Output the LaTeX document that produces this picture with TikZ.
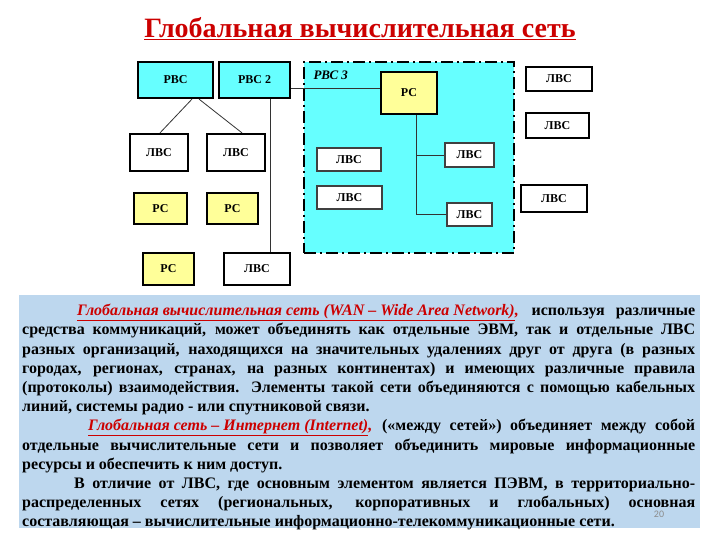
\documentclass[tikz,border=0pt]{standalone}
\usepackage{fontspec}
\setmainfont{Liberation Serif}
\newfontfamily\numfont{Carlito}
\usetikzlibrary{calc}

\definecolor{netcyan}{RGB}{102,255,255}
\definecolor{wsyellow}{RGB}{255,255,153}
\definecolor{infoblue}{RGB}{189,215,238}
\definecolor{titlered}{RGB}{204,0,0}

\begin{document}
\begin{tikzpicture}[x=1pt, y=-1pt,
        box/.style={draw, line width=2.2pt, inner sep=0pt, font=\bfseries\fontsize{12}{14}\selectfont},
        net/.style={box, fill=netcyan},
        lan/.style={box, fill=white},
        lanthin/.style={box, draw=black!75, line width=1.2pt, fill=white},
        ws/.style={box, fill=wsyellow},
        sz/.style 2 args={minimum width=#1pt, minimum height=#2pt},
        link/.style={draw=black!80, line width=0.8pt}]

    \useasboundingbox (0,0) rectangle (720,540);
    \fill[white] (0,0) rectangle (720,540);

    % Title
    \node[font=\bfseries\fontsize{28}{30}\selectfont, text=titlered] (title) at (360,29)
        {\underline{Глобальная вычислительная сеть}};

    % Region RVS 3
    \node[draw, fill=netcyan, line width=2.2pt, dash pattern=on 12pt off 4pt on 2pt off 4pt,
          sz={210}{191}] (rvs3) at (409,157.5) {};
    \node[anchor=west, font=\bfseries\itshape\fontsize{13}{15}\selectfont] (rvs3label) at (310,75) {РВС 3};

    % Left part
    \node[net, sz={75}{36}] (rvs) at (175.5,80) {РВС};
    \node[net, sz={71}{36}] (rvs2) at (254.5,80) {РВС 2};
    \node[lan, sz={58}{37}] (lvsA) at (159,152.5) {ЛВС};
    \node[lan, sz={58}{37}] (lvsB) at (236,152.5) {ЛВС};
    \node[ws, sz={53}{31}] (rsA) at (160.5,208.5) {РС};
    \node[ws, sz={51}{31}] (rsB) at (232.5,208.5) {РС};
    \node[ws, sz={51}{32}] (rsC) at (168.5,269) {РС};
    \node[lan, sz={66}{32}] (lvsC) at (257,269) {ЛВС};

    % Inside RVS 3
    \node[ws, sz={56}{42}] (rs3) at (409,93) {РС};
    \node[lanthin, sz={64}{23}] (lvsD) at (349,159.5) {ЛВС};
    \node[lanthin, sz={65}{23}] (lvsE) at (349.5,197.5) {ЛВС};
    \node[lanthin, sz={49}{24}] (lvsF) at (469.5,155) {ЛВС};
    \node[lanthin, sz={45}{23}] (lvsG) at (469.5,214.5) {ЛВС};

    % Right column
    \node[lan, sz={66}{24}] (lvsH) at (559,79) {ЛВС};
    \node[lan, sz={63}{25}] (lvsI) at (557.5,125.5) {ЛВС};
    \node[lan, sz={66}{27}] (lvsJ) at (554,198.5) {ЛВС};

    % Links
    \draw[link] ([xshift=16.5]rvs.south) -- ([xshift=1]lvsA.north);
    \draw[link] ([xshift=23.5]rvs.south) -- ([xshift=6]lvsB.north);
    \draw[link] ([xshift=15.5]rvs2.south) -- ([xshift=15.5]rvs2.south |- lvsC.north);
    \draw[link] ([yshift=-8]rvs2.east) -- ([yshift=-8]rvs2.east -| rs3.west);
    \draw[link] ([xshift=7]rs3.south) |- (lvsG.west);
    \draw[link] ([xshift=7]rs3.south |- lvsF.west) -- (lvsF.west);

    % Text block
    \node[fill=infoblue, anchor=north west, sz={681}{233}] (infobox) at (19,295) {};
    \node[anchor=north west, inner sep=0pt, text width=673pt, align=justify,
          font=\bfseries\fontsize{16}{19.2}\selectfont] (infotext) at (22,304) {%
        \tolerance=10000\hyphenpenalty=10000
        \hspace*{55pt}{\color{titlered}\itshape\underline{Глобальная вычислительная сеть (WAN – Wide Area Network)},} используя различные\linebreak
        средства коммуникаций, может объединять как отдельные ЭВМ, так и отдельные ЛВС\linebreak
        разных организаций, находящихся на значительных удалениях друг от друга (в разных\linebreak
        городах, регионах, странах, на разных континентах) и имеющих различные правила\linebreak
        (протоколы) взаимодействия. Элементы такой сети объединяются с помощью кабельных\linebreak
        линий, системы радио - или спутниковой связи.\par
        \hspace*{66pt}{\color{titlered}\itshape\underline{Глобальная сеть – Интернет (Internet)},} («между сетей») объединяет между собой\linebreak
        отдельные вычислительные сети и позволяет объединить мировые информационные\linebreak
        ресурсы и обеспечить к ним доступ.\par
        \hspace*{52pt}В отличие от ЛВС, где основным элементом является ПЭВМ, в территориально-\linebreak
        распределенных сетях (региональных, корпоративных и глобальных) основная\linebreak
        составляющая – вычислительные информационно-телекоммуникационные сети.\par}; 
    \node[text=black!45, font=\numfont\fontsize{10}{12}\selectfont] (pagenum) at (659,514) {20};

\end{tikzpicture}
\end{document}
